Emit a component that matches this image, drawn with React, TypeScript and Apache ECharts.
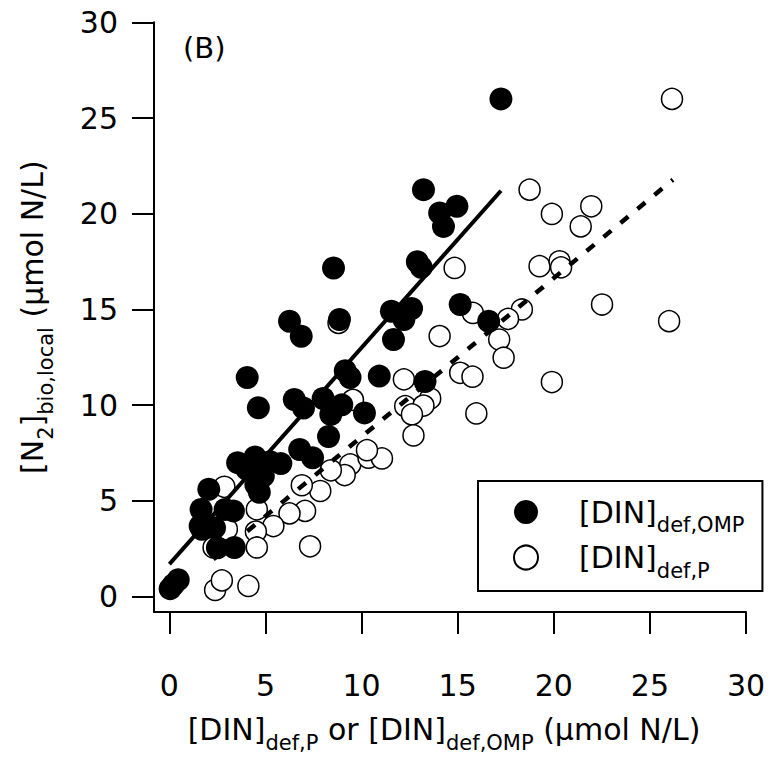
import React, { useEffect, useRef } from "react";
import * as echarts from "echarts";

const FONT = "DejaVu Sans";

// [DIN]def,OMP (x) vs [N2]bio,local (y) — filled circles
const dinOmpPoints: number[][] = [
  [17.25, 26.0], [13.22, 21.26], [14.96, 20.39], [14.06, 20.04], [14.26, 19.34],
  [12.9, 17.5], [13.1, 17.2], [8.54, 17.17], [15.13, 15.26], [12.6, 15.05],
  [11.55, 14.91], [12.2, 14.48], [16.61, 14.39], [8.85, 14.48], [6.25, 14.39],
  [6.86, 13.6], [11.66, 13.43], [4.05, 11.45], [4.63, 9.87], [9.15, 11.8],
  [9.4, 11.45], [10.92, 11.52], [13.3, 11.24], [6.5, 10.3], [6.98, 9.85],
  [8.0, 10.35], [8.97, 10.02], [8.4, 9.52], [10.15, 9.6], [8.28, 8.37],
  [6.78, 7.69], [7.45, 7.26], [3.55, 7.0], [4.46, 7.3], [5.24, 7.05],
  [5.8, 6.95], [4.03, 6.65], [4.89, 6.3], [4.5, 5.85], [4.68, 5.45],
  [2.05, 5.61], [1.65, 4.56], [2.9, 4.56], [3.33, 4.48], [1.6, 3.69],
  [2.35, 3.6], [1.69, 3.52], [2.5, 2.55], [3.38, 2.57], [0.04, 0.42],
  [0.21, 0.62], [0.46, 0.88],
];

// [DIN]def,P (x) vs [N2]bio,local (y) — open circles
const dinPPoints: number[][] = [
  [26.15, 26.0], [18.74, 21.26], [21.95, 20.39], [19.9, 19.99], [21.4, 19.34],
  [14.84, 17.17], [19.26, 17.26], [20.3, 17.52], [20.38, 17.2], [22.51, 15.26],
  [18.34, 15.0], [15.79, 14.82], [17.62, 14.51], [26.0, 14.39], [8.8, 14.3],
  [14.06, 13.61], [17.16, 13.43], [17.39, 12.48], [15.13, 11.69], [15.77, 11.49],
  [19.9, 11.21], [15.97, 9.57], [12.2, 11.35], [13.57, 10.35], [12.27, 9.95],
  [13.22, 9.98], [12.62, 9.52], [12.7, 8.42], [9.55, 10.28], [9.41, 6.91],
  [10.36, 7.26], [11.06, 7.22], [10.28, 7.65], [9.12, 6.35], [8.4, 6.6],
  [7.85, 5.52], [6.89, 5.82], [7.06, 4.48], [6.25, 4.35], [5.41, 3.69],
  [4.55, 4.56], [4.5, 3.4], [4.55, 2.57], [7.32, 2.63], [2.86, 5.74],
  [2.99, 3.52], [2.3, 2.57], [2.38, 0.35], [2.73, 0.85], [4.11, 0.56],
];

// regression lines (end points)
const fitOmp: number[][] = [[0, 1.7], [17.25, 21.2]];
const fitP: number[][] = [[2.29, 1.96], [26.2, 21.78]];

const tickValues: number[] = [0, 5, 10, 15, 20, 25, 30];
const axisMin = -0.8;
const axisMax = 30;

const nameOmp = "[DIN]def,OMP";
const nameP = "[DIN]def,P";
const legendRich: Record<string, string> = {
  [nameOmp]: "{m|[DIN]}{s|def,OMP}",
  [nameP]: "{m|[DIN]}{s|def,P}",
};
const xTitle = "{m|[DIN]}{s|def,P}{m| or [DIN]}{s|def,OMP}{m| (µmol N/L)}";
const yTitle = "{m|[N}{s|2}{m|]}{s|bio,local}{m| (µmol N/L)}";
const panelLabel = "(B)";

export default function App() {
  const ref = useRef<HTMLDivElement>(null);
  useEffect(() => {
    document.body.style.margin = "0";
    if (!ref.current) return;
    const chart = echarts.init(ref.current, null, { renderer: "svg" });
    const rich = {
      m: { fontFamily: FONT, fontSize: 30, color: "#000" },
      s: { fontFamily: FONT, fontSize: 21, color: "#000", padding: [26, 0, 0, 0] },
    };
    const axisCommon = {
      type: "value",
      min: axisMin,
      max: axisMax,
      axisLine: { show: true, onZero: false, lineStyle: { color: "#000", width: 2 } },
      axisTick: {
        show: true,
        inside: false,
        length: 22,
        customValues: tickValues,
        lineStyle: { color: "#000", width: 2 },
      },
      splitLine: { show: false },
      nameMoveOverlap: false,
    };
    chart.setOption({
      animation: false,
      backgroundColor: "#fff",
      grid: { left: 154, right: 25, top: 22.3, bottom: 144.7, containLabel: false },
      xAxis: {
        ...axisCommon,
        axisLabel: {
          customValues: tickValues,
          fontFamily: FONT,
          fontSize: 30,
          color: "#000",
          margin: 58,
          formatter: (v: number) => String(v),
        },
        name: xTitle,
        nameLocation: "middle",
        nameGap: 94,
        nameTextStyle: { fontFamily: FONT, fontSize: 30, color: "#000", rich, padding: [0, 12, 0, 0] },
      },
      yAxis: {
        ...axisCommon,
        axisLabel: {
          customValues: tickValues,
          fontFamily: FONT,
          fontSize: 30,
          color: "#000",
          margin: 36,
          formatter: (v: number) => String(v),
        },
        name: yTitle,
        nameLocation: "middle",
        nameRotate: 90,
        nameGap: 98,
        nameTextStyle: { fontFamily: FONT, fontSize: 30, color: "#000", rich },
      },
      legend: {
        orient: "vertical",
        left: 478,
        top: 481,
        borderColor: "#000",
        borderWidth: 2,
        borderRadius: 0,
        padding: [16, 18, 10, 35],
        itemWidth: 24,
        itemHeight: 24,
        itemGap: 7,
        selectedMode: false,
        data: [{ name: nameOmp }, { name: nameP }],
        formatter: (n: string) => legendRich[n] ?? n,
        textStyle: { rich, padding: [0, 0, 0, 36] },
      },
      graphic: [
        {
          type: "text",
          left: 183,
          top: 33,
          style: { text: panelLabel, fontFamily: FONT, fontSize: 29, fill: "#000" },
        },
      ],
      series: [
        {
          name: nameP,
          type: "scatter",
          data: dinPPoints,
          symbol: "circle",
          symbolSize: 21,
          itemStyle: { color: "#fff", borderColor: "#000", borderWidth: 1.5, opacity: 1 },
          z: 2,
        },
        {
          name: nameOmp,
          type: "scatter",
          data: dinOmpPoints,
          symbol: "circle",
          symbolSize: 23,
          itemStyle: { color: "#000", opacity: 1 },
          z: 3,
        },
        {
          name: "fitOmp",
          type: "line",
          data: fitOmp,
          showSymbol: false,
          symbol: "none",
          lineStyle: { color: "#000", width: 4, type: "solid" },
          z: 4,
        },
        {
          name: "fitP",
          type: "line",
          data: fitP,
          showSymbol: false,
          symbol: "none",
          lineStyle: { color: "#000", width: 4.5, type: [10, 12] },
          z: 4,
        },
      ],
    });
    return () => chart.dispose();
  }, []);
  return <div ref={ref} style={{ width: 771, height: 758 }} />;
}
